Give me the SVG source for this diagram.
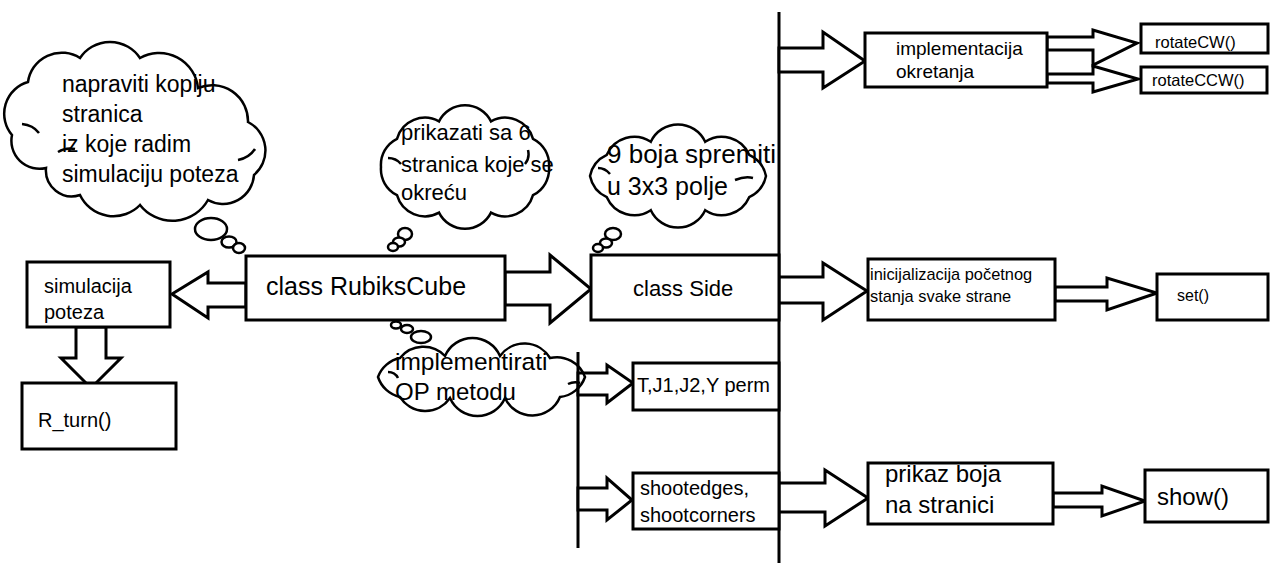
<svg xmlns="http://www.w3.org/2000/svg" width="1270" height="563" viewBox="0 0 1270 563">
<style>
.box{fill:#fff;stroke:#000;stroke-width:3}
.arr{fill:#fff;stroke:#000;stroke-width:3;stroke-linejoin:miter}
.ln{stroke:#000;stroke-width:3;fill:none}
.cloud{fill:none;stroke:#000;stroke-width:2.5}
.bub{fill:#fff;stroke:#000;stroke-width:2.5}
text{font-family:"Liberation Sans",Arial,sans-serif;fill:#000}
</style>
<rect width="1270" height="563" fill="#fff"/>
<g id="connectors">
<line class="ln" x1="779" y1="12" x2="779" y2="563"/>
<line class="ln" x1="578" y1="352" x2="578" y2="548"/>
<polygon class="arr" points="246,283 208,283 208,272 172,294 208,318 208,307 246,307"/>
<polygon class="arr" points="76,327 76,358 61,358 91,388 121,358 106,358 106,327"/>
<polygon class="arr" points="505,272 550,272 550,255 591,289 550,323 550,305 505,305"/>
<polygon class="arr" points="779,48 823,48 823,32 865,61 823,88 823,72 779,72"/>
<polygon class="arr" points="1047,37 1093,37 1093,30 1137,43 1093,65 1093,50 1047,50"/>
<polygon class="arr" points="1047,74 1093,74 1093,66 1138,79 1093,92 1093,83 1047,83"/>
<polygon class="arr" points="779,277 823,277 823,263 867,291 823,320 823,303 779,303"/>
<polygon class="arr" points="1055,287 1107,287 1107,278 1157,293 1107,310 1107,301 1055,301"/>
<polygon class="arr" points="779,483 825,483 825,470 868,498 825,526 825,512 779,512"/>
<polygon class="arr" points="1053,493 1102,493 1102,486 1145,501 1102,516 1102,507 1053,507"/>
<polygon class="arr" points="578,373 607,373 607,365 633,383 607,403 607,395 578,395"/>
<polygon class="arr" points="578,488 607,488 607,478 632,500 607,520 607,510 578,510"/>
</g>
<g id="cloud-kopija">
<path class="cloud" d="M12,135 A33,33 0 0 1 28,82 A34,34 0 0 1 80,58 A36,36 0 0 1 140,58 A39,39 0 0 1 198,88 A36,36 0 0 1 248,122 A32,32 0 0 1 254,175 A31,31 0 0 1 208,200 A41,41 0 0 1 140,205 A37,37 0 0 1 80,195 A26,26 0 0 1 46,168 A28,28 0 0 1 12,135 Z"/>
<path class="cloud" d="M22,124 q11,1 17,9 M58,152 q8,-5 17,-3 M238,160 q11,-2 17,-11"/>
<ellipse class="bub" cx="211" cy="229" rx="16" ry="11"/>
<ellipse class="bub" cx="229" cy="242" rx="7.5" ry="5.5"/>
<ellipse class="bub" cx="239" cy="248" rx="6" ry="5"/>
<text x="62" y="92" font-size="23">napraviti kopiju</text>
<text x="62" y="122" font-size="23">stranica</text>
<text x="62" y="152" font-size="23">iz koje radim</text>
<text x="62" y="182" font-size="23">simulaciju poteza</text>
</g>
<g id="cloud-prikazati">
<path class="cloud" d="M381,167 A29,29 0 0 1 397,138.8 A29,29 0 0 1 439,121.4 A29,29 0 0 1 491,121.4 A29,29 0 0 1 533,138.8 A29,29 0 0 1 549,167 A29,29 0 0 1 533,195.2 A29,29 0 0 1 491,212.6 A29,29 0 0 1 439,212.6 A29,29 0 0 1 397,195.2 A29,29 0 0 1 381,167 Z"/>
<path class="cloud" d="M388,158 q8,0 13,6 M528,150 q2,8 -3,14"/>
<ellipse class="bub" cx="405" cy="234" rx="7" ry="6"/>
<ellipse class="bub" cx="399" cy="242" rx="6" ry="4.5"/>
<ellipse class="bub" cx="393" cy="247" rx="5" ry="4"/>
<text x="401" y="140" font-size="22">prikazati sa 6</text>
<text x="401" y="172" font-size="22">stranica koje se</text>
<text x="401" y="200" font-size="22">okreću</text>
</g>
<g id="cloud-boja">
<path class="cloud" d="M590,176 A30,30 0 0 1 606.8,154.8 A30,30 0 0 1 650.8,141.8 A30,30 0 0 1 705.2,141.8 A30,30 0 0 1 749.2,154.8 A30,30 0 0 1 766,176 A30,30 0 0 1 749.2,197.2 A30,30 0 0 1 705.2,210.2 A30,30 0 0 1 650.8,210.2 A30,30 0 0 1 606.8,197.2 A30,30 0 0 1 590,176 Z"/>
<path class="cloud" d="M598,168 q7,0 12,6 M735,180 q10,-4 18,-2"/>
<ellipse class="bub" cx="613" cy="234" rx="8" ry="6"/>
<ellipse class="bub" cx="606" cy="243" rx="6" ry="4.5"/>
<ellipse class="bub" cx="598" cy="248" rx="5" ry="4"/>
<text x="607" y="163" font-size="26">9 boja spremiti</text>
<text x="607" y="195" font-size="25">u 3x3 polje</text>
</g>
<g id="cloud-op">
<path class="cloud" d="M378,377 A30,30 0 0 1 400,358 A30,30 0 0 1 445,356 A30,30 0 0 1 500,356 A30,30 0 0 1 550,358 A30,30 0 0 1 585,377 A30,30 0 0 1 560,397 A30,30 0 0 1 505,398 A30,30 0 0 1 450,398 A30,30 0 0 1 400,397 A30,30 0 0 1 378,377 Z"/>
<path class="cloud" d="M388,372 q7,0 10,6 M568,384 q6,-3 12,-1"/>
<ellipse class="bub" cx="421" cy="337" rx="10" ry="6"/>
<ellipse class="bub" cx="407" cy="329" rx="6" ry="4"/>
<ellipse class="bub" cx="396" cy="325" rx="5" ry="3.5"/>
<text x="395" y="370" font-size="24.5">implementirati</text>
<text x="395" y="400" font-size="24">OP metodu</text>
</g>
<g id="node-simulacija">
<rect class="box" x="27" y="262" width="143" height="65"/>
<text x="44" y="293" font-size="20">simulacija</text>
<text x="44" y="319" font-size="20">poteza</text>
</g>
<g id="node-rturn">
<rect class="box" x="22" y="383" width="154" height="66"/>
<text x="38" y="427" font-size="20">R_turn()</text>
</g>
<g id="node-rubikscube">
<rect class="box" x="246" y="256" width="259" height="64"/>
<text x="266" y="295" font-size="25">class RubiksCube</text>
</g>
<g id="node-side">
<rect class="box" x="591" y="255" width="188" height="65"/>
<text x="633" y="296" font-size="22">class Side</text>
</g>
<g id="node-perm">
<rect class="box" x="633" y="363" width="146" height="47"/>
<text x="637" y="392" font-size="20">T,J1,J2,Y perm</text>
</g>
<g id="node-shoot">
<rect class="box" x="633" y="473" width="146" height="56"/>
<text x="640" y="495" font-size="20">shootedges,</text>
<text x="640" y="522" font-size="20">shootcorners</text>
</g>
<g id="node-okretanje">
<rect class="box" x="865" y="33" width="182" height="54"/>
<text x="896" y="55" font-size="19">implementacija</text>
<text x="896" y="78" font-size="19">okretanja</text>
</g>
<g id="node-rotatecw">
<rect class="box" x="1141" y="24" width="127" height="29"/>
<text x="1155" y="48" font-size="16.5">rotateCW()</text>
</g>
<g id="node-rotateccw">
<rect class="box" x="1141" y="67" width="126" height="26"/>
<text x="1152" y="86" font-size="16.5">rotateCCW()</text>
</g>
<g id="node-init">
<rect class="box" x="868" y="259" width="187" height="61"/>
<text x="870" y="280" font-size="16.4">inicijalizacija početnog</text>
<text x="870" y="302" font-size="16.4">stanja svake strane</text>
</g>
<g id="node-set">
<rect class="box" x="1157" y="274" width="111" height="46"/>
<text x="1177" y="301" font-size="16">set()</text>
</g>
<g id="node-prikaz">
<rect class="box" x="868" y="463" width="185" height="61"/>
<text x="885" y="482" font-size="24">prikaz boja</text>
<text x="885" y="513" font-size="24">na stranici</text>
</g>
<g id="node-show">
<rect class="box" x="1145" y="470" width="123" height="52"/>
<text x="1157" y="505" font-size="24">show()</text>
</g>
</svg>
